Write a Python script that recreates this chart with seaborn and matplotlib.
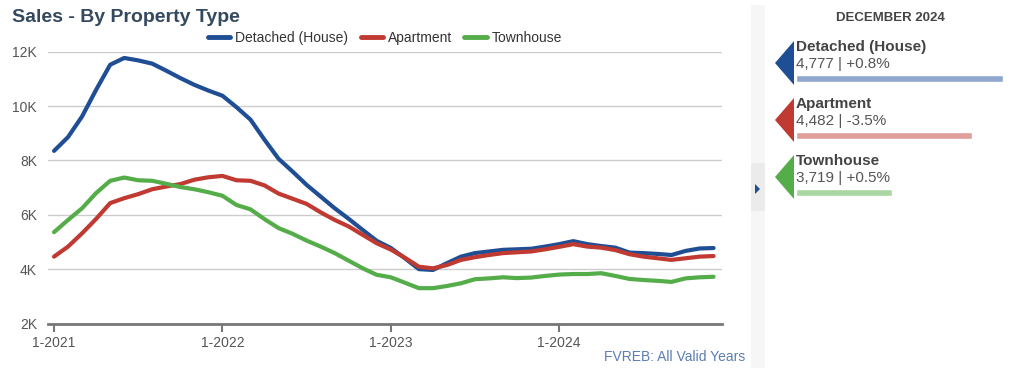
import numpy as np
import pandas as pd
import seaborn as sns
import matplotlib.pyplot as plt
from matplotlib.patches import Polygon, Rectangle

# monthly sales, Jan 2021 .. Dec 2024 (thousands)
years = ["1-2021", "1-2022", "1-2023", "1-2024"]
detached = [8.35, 8.86, 9.62, 10.6, 11.52, 11.77, 11.68, 11.56, 11.3, 11.03, 10.78, 10.57,
            10.38, 9.96, 9.5, 8.76, 8.06, 7.59, 7.1, 6.67, 6.24, 5.85, 5.44, 5.04,
            4.78, 4.4, 4.0, 3.97, 4.22, 4.46, 4.59, 4.65, 4.71, 4.73, 4.75, 4.83,
            4.92, 5.03, 4.92, 4.85, 4.79, 4.61, 4.59, 4.56, 4.52, 4.67, 4.76, 4.777]
apartment = [4.46, 4.83, 5.32, 5.85, 6.43, 6.61, 6.76, 6.94, 7.04, 7.13, 7.29, 7.38,
             7.43, 7.27, 7.25, 7.08, 6.78, 6.59, 6.4, 6.09, 5.81, 5.57, 5.26, 4.95,
             4.72, 4.42, 4.09, 4.03, 4.15, 4.34, 4.44, 4.52, 4.59, 4.62, 4.65, 4.73,
             4.82, 4.92, 4.83, 4.79, 4.7, 4.55, 4.46, 4.4, 4.34, 4.4, 4.46, 4.482]
townhouse = [5.36, 5.81, 6.24, 6.8, 7.25, 7.37, 7.27, 7.25, 7.14, 7.02, 6.94, 6.83,
             6.7, 6.36, 6.2, 5.84, 5.51, 5.3, 5.05, 4.83, 4.59, 4.31, 4.03, 3.79,
             3.7, 3.5, 3.3, 3.3, 3.38, 3.48, 3.63, 3.66, 3.7, 3.67, 3.69, 3.75,
             3.8, 3.82, 3.82, 3.85, 3.75, 3.64, 3.6, 3.57, 3.53, 3.66, 3.7, 3.719]
series = ["Detached (House)", "Apartment", "Townhouse"]
colors = ["#1f4e94", "#c03a32", "#55ad49"]
light = ["#8fa7cb", "#e09e9b", "#aad6a1"]
latest = [4777, 4482, 3719]
change = ["+0.8%", "-3.5%", "+0.5%"]

rows = []
for name, vals in zip(series, [detached, apartment, townhouse]):
    for i, v in enumerate(vals):
        rows.append({"month": i, "sales": v * 1000, "type": name})
df = pd.DataFrame(rows)

sns.set_style("white")
plt.rcParams['font.family'] = ['Liberation Sans', 'DejaVu Sans']

W, H = 1024, 377
fig = plt.figure(figsize=(W / 100, H / 100), dpi=100)

def px(x0, y0, x1, y1):
    return [x0 / W, 1 - y1 / H, (x1 - x0) / W, (y1 - y0) / H]

ax = fig.add_axes(px(48, 51.7, 722, 323.5))
sns.lineplot(data=df, x="month", y="sales", hue="type", palette=colors,
             hue_order=series, linewidth=3, ax=ax, legend=False)
ax.set_xlim(-0.43, 47.6)
ax.set_ylim(2000, 12000)
ax.set_yticks([2000, 4000, 6000, 8000, 10000, 12000])
ax.set_yticklabels(["2K", "4K", "6K", "8K", "10K", "12K"])
ax.set_xticks([0, 12, 24, 36])
ax.set_xticklabels(years)
ax.set_xlabel("")
ax.set_ylabel("")
ax.grid(axis="y", color="#cccccc", linewidth=1)
ax.set_axisbelow(True)
for s in ["top", "right", "left"]:
    ax.spines[s].set_visible(False)
ax.spines["bottom"].set_color("#777777")
ax.spines["bottom"].set_linewidth(2)
ax.tick_params(axis="y", length=0, pad=8, labelsize=10, labelcolor="#555555")
ax.tick_params(axis="x", bottom=True, direction="out", length=6, width=1.5,
               color="#777777", pad=3, labelsize=10, labelcolor="#555555")

handles = [plt.Line2D([], [], color=c, linewidth=3.5) for c in colors]
ax.legend(handles, series, loc="lower center", bbox_to_anchor=(0.5, 0.995),
          ncol=3, frameon=False, fontsize=10, handlelength=1.6,
          columnspacing=0.9, handletextpad=0.35, labelcolor="#333333",
          borderaxespad=0.2)

fig.text(12 / W, 1 - 17 / H, "Sales - By Property Type", fontsize=14,
         fontweight="bold", color="#34495e", va="center", ha="left")
fig.text(745 / W, 1 - 357 / H, "FVREB: All Valid Years", fontsize=10,
         color="#5b7db0", va="center", ha="right")

# right-hand panel, drawn in pixel coordinates
pan = fig.add_axes([0, 0, 1, 1], zorder=-1)
pan.set_xlim(0, W)
pan.set_ylim(H, 0)
pan.axis("off")
pan.add_patch(Rectangle((751, 5), 14, 363, color="#f6f6f6", lw=0))
pan.add_patch(Rectangle((751, 163), 14, 48, color="#ebebeb", lw=0))
pan.add_patch(Polygon([[755, 184], [755, 194], [760, 189]], color="#1f4e94", lw=0))

fig.text(890 / W, 1 - 18 / H, "DECEMBER 2024", fontsize=9.5, fontweight="bold",
         color="#444444", ha="center", va="center")
for i, name in enumerate(series):
    top = 41 + i * 57
    pan.add_patch(Polygon([[775, top + 22], [794, top], [794, top + 44]],
                          color=colors[i], lw=0))
    fig.text(796 / W, 1 - (top + 6) / H, name, fontsize=11, fontweight="bold",
             color="#444444", ha="left", va="center")
    fig.text(796 / W, 1 - (top + 23) / H, f"{latest[i]:,} | {change[i]}",
             fontsize=11, color="#555555", ha="left", va="center")

bx = fig.add_axes(px(796, 60, 1003, 210))
bx.barh([78.5, 135.5, 192], [v - 2800 for v in latest], left=2800,
        height=7, color=light)
bx.set_xlim(2800, 4777)
bx.set_ylim(210, 60)
bx.axis("off")

fig.savefig("out.png", dpi=100)
